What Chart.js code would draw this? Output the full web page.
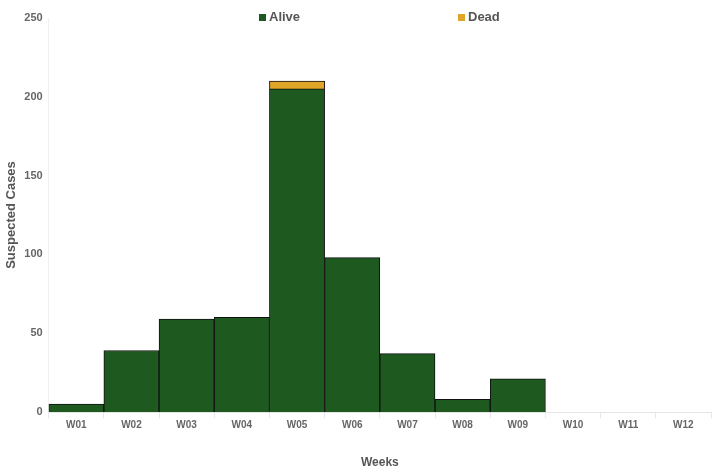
<!DOCTYPE html>
<html>
<head>
<meta charset="utf-8">
<script src="https://cdn.jsdelivr.net/npm/chart.js@4"></script>
<style>
  html, body { margin: 0; padding: 0; background: #fff; }
  #wrap { width: 712px; height: 469px; position: relative; }
</style>
</head>
<body>
<div id="wrap"><canvas id="c" width="712" height="469"></canvas></div>
<script>
const weeks = ["W01","W02","W03","W04","W05","W06","W07","W08","W09","W10","W11","W12"];
const alive = [5, 39, 59, 60, 205, 98, 37, 8, 21, 0, 0, 0];
const dead  = [0, 0, 0, 0, 5, 0, 0, 0, 0, 0, 0, 0];
const seriesNames = ["Alive", "Dead"];
const yTicks = [0, 50, 100, 150, 200, 250];

const FONT = "'Liberation Sans', Arial, sans-serif";
const GREEN = "#1e5a20";
const ORANGE = "#e1a628";

const legendPlugin = {
  id: 'customLegend',
  afterDraw(chart) {
    const ctx = chart.ctx;
    const starts = [259, 458];
    ctx.save();
    ctx.font = "bold 13px " + FONT;
    ctx.textBaseline = 'middle';
    chart.data.datasets.forEach((ds, i) => {
      const x0 = starts[i];
      const y = 17;
      ctx.fillStyle = ds.backgroundColor;
      ctx.fillRect(x0, y - 3, 7, 7);
      ctx.fillStyle = '#555';
      ctx.textAlign = 'left';
      ctx.fillText(ds.label, x0 + 10, y + 0.5);
    });
    ctx.restore();
  }
};

new Chart(document.getElementById('c'), {
  type: 'bar',
  data: {
    labels: weeks,
    datasets: [
      { label: seriesNames[0], data: alive, backgroundColor: GREEN, borderColor: '#101010', borderWidth: 1, barPercentage: 1, categoryPercentage: 1 },
      { label: seriesNames[1], data: dead, backgroundColor: ORANGE, borderColor: '#101010', borderWidth: 1, barPercentage: 1, categoryPercentage: 1 }
    ]
  },
  options: {
    responsive: false,
    animation: false,
    devicePixelRatio: 1,
    layout: { padding: { top: 18, right: 1, bottom: 0, left: 4 } },
    plugins: {
      legend: { display: false },
      tooltip: { enabled: false }
    },
    scales: {
      x: {
        stacked: true,
        grid: { display: true, drawOnChartArea: false, drawTicks: true, tickLength: 6, color: '#e6e6e6', offset: true },
        border: { display: true, color: '#e6e6e6' },
        ticks: { color: '#666', font: { family: FONT, size: 10, weight: 'bold' }, padding: 1, maxRotation: 0 },
        title: { display: true, text: 'Weeks', color: '#555', font: { family: FONT, size: 12, weight: 'bold', lineHeight: 1.0 }, padding: { top: 25, bottom: 0 } }
      },
      y: {
        stacked: true,
        min: 0,
        max: 250,
        afterBuildTicks(axis) { axis.ticks = yTicks.map(v => ({ value: v })); },
        grid: { display: false, drawTicks: false },
        border: { display: true, color: '#f0f0f0' },
        ticks: { color: '#666', font: { family: FONT, size: 11, weight: 'bold' }, padding: 6 },
        title: { display: true, text: 'Suspected Cases', color: '#555', font: { family: FONT, size: 13, weight: 'bold', lineHeight: 1.1 }, padding: { top: 0, bottom: 0 } }
      }
    }
  },
  plugins: [legendPlugin]
});
</script>
</body>
</html>
